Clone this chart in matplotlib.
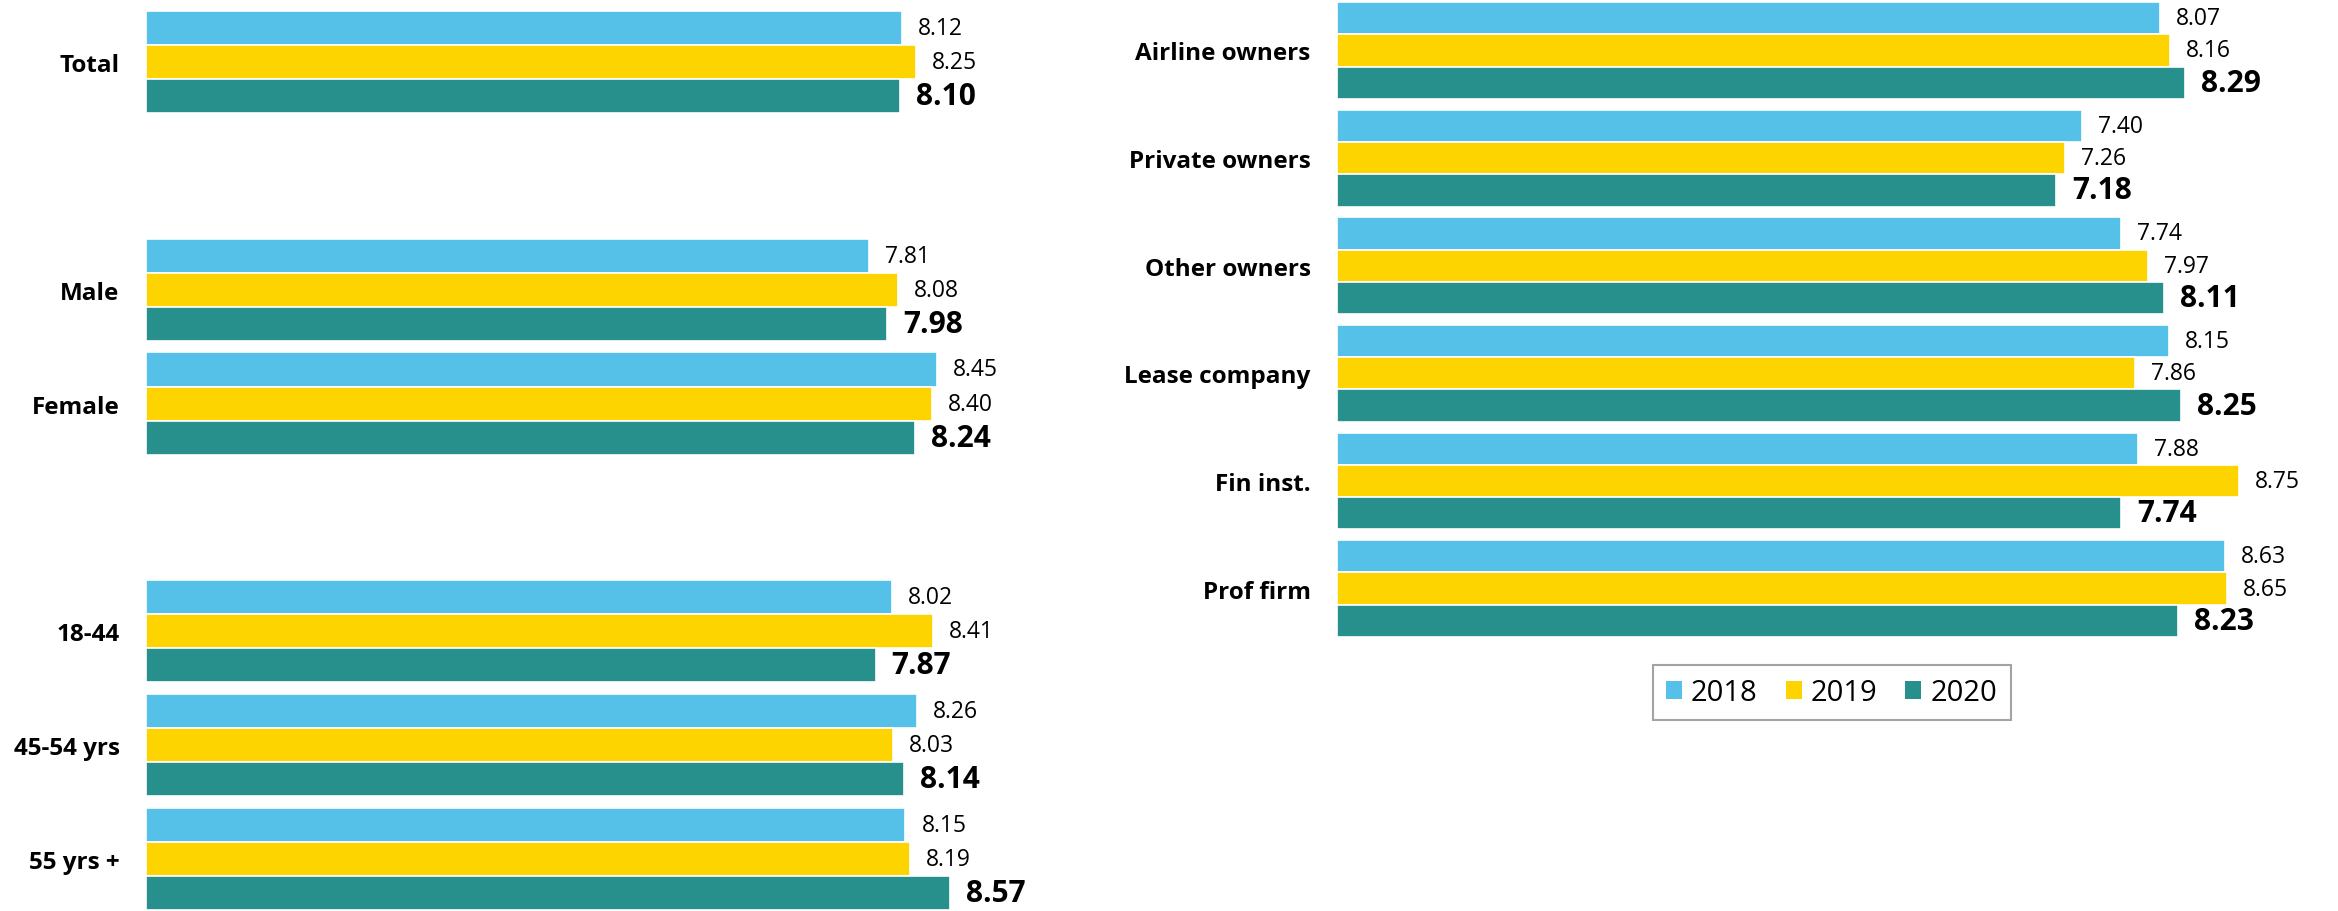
import numpy as np
import matplotlib
matplotlib.use("Agg")
import matplotlib.pyplot as plt
from matplotlib.patches import Patch

plt.rcParams["font.family"] = ["Open Sans", "DejaVu Sans"]

years = ["2018", "2019", "2020"]
colors = ["#55C0E8", "#FED400", "#27908C"]

# demographic breakdown (sections are separated by an empty row)
left_cats = ["Total", "Male", "Female", "18-44", "45-54 yrs", "55 yrs +"]
left_sections = [1, 2, 3]
left_2018 = [8.12, 7.81, 8.45, 8.02, 8.26, 8.15]
left_2019 = [8.25, 8.08, 8.40, 8.41, 8.03, 8.19]
left_2020 = [8.10, 7.98, 8.24, 7.87, 8.14, 8.57]

# owner types
right_cats = ["Airline owners", "Private owners", "Other owners",
              "Lease company", "Fin inst.", "Prof firm"]
right_2018 = [8.07, 7.40, 7.74, 8.15, 7.88, 8.63]
right_2019 = [8.16, 7.26, 7.97, 7.86, 8.75, 8.65]
right_2020 = [8.29, 7.18, 8.11, 8.25, 7.74, 8.23]


def section_rows(sizes):
    rows, r = [], 0
    for n in sizes:
        rows.extend(range(r, r + n))
        r += n + 1
    return rows


def draw_group(ax, rows, cats, series, n_rows):
    h = 0.3
    offsets = [-h, 0, h]
    for k, vals in enumerate(series):
        y = np.array(rows) + offsets[k]
        ax.barh(y, np.array(vals) - 1, left=1, height=h, color=colors[k],
                edgecolor="white", linewidth=1.2)
        for yy, v in zip(y, vals):
            if k == 2:
                ax.annotate(f"{v:.2f}", (v, yy), xytext=(11.5, 0),
                            textcoords="offset points", va="center", ha="left",
                            fontsize=21.5, fontweight="bold", color="black")
            else:
                ax.annotate(f"{v:.2f}", (v, yy), xytext=(11.5, 0),
                            textcoords="offset points", va="center", ha="left",
                            fontsize=16.5, color="black")
    ax.set_xlim(1, 9.5)
    ax.set_ylim(n_rows - 0.55, -0.45)
    ax.set_yticks(rows)
    ax.set_yticklabels(cats, fontsize=17.5, fontweight="bold")
    ax.tick_params(axis="y", length=0, pad=19)
    ax.set_xticks([])
    for s in ax.spines.values():
        s.set_visible(False)


fig = plt.figure(figsize=(23.38, 9.12), dpi=100)

ax1 = fig.add_axes([0.0624, 0.0011, 0.3862, 0.9857])
rows_left = section_rows(left_sections)
draw_group(ax1, rows_left, left_cats, [left_2018, left_2019, left_2020],
           rows_left[-1] + 1)

ax2 = fig.add_axes([0.5719, 0.3004, 0.4230, 0.6963])
rows_right = list(range(len(right_cats)))
draw_group(ax2, rows_right, right_cats, [right_2018, right_2019, right_2020],
           len(right_cats))

handles = [Patch(facecolor=c, edgecolor="none", label=y) for c, y in zip(colors, years)]
leg = ax2.legend(handles=handles, loc="upper center", bbox_to_anchor=(0.5, -0.044),
                 borderaxespad=0, ncol=3, fontsize=21, frameon=True, fancybox=False,
                 handlelength=0.55, handleheight=0.55, handletextpad=0.32,
                 columnspacing=0.95, borderpad=0.45)
leg.get_frame().set_edgecolor("#8C8C8C")
leg.get_frame().set_linewidth(1.5)

fig.savefig("out.png", dpi=100, facecolor="white")
